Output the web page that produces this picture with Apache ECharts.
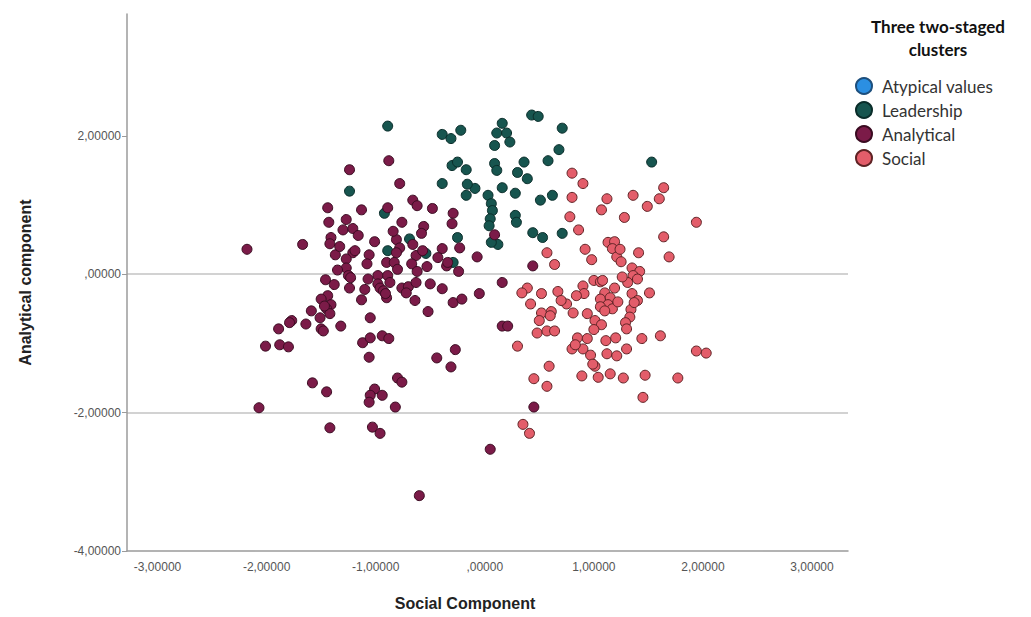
<!DOCTYPE html>
<html>
<head>
<meta charset="utf-8">
<title>Three two-staged clusters</title>
<script src="https://cdn.jsdelivr.net/npm/echarts@6/dist/echarts.min.js"></script>
<style>
  html, body { margin: 0; padding: 0; background: #ffffff; }
  #chart { width: 1031px; height: 617px; }
</style>
</head>
<body>
<div id="chart"></div>
<script>
// Cluster names as shown in the legend
const clusterNames = ['Atypical values', 'Leadership', 'Analytical', 'Social'];

// Tick positions and their printed labels (comma decimal, SPSS style)
const xTickValues = [-3, -2, -1, 0, 1, 2, 3];
const xTickLabels = ['-3,00000', '-2,00000', '-1,00000', ',00000', '1,00000', '2,00000', '3,00000'];
const yTickValues = [-4, -2, 0, 2];
const yTickLabels = ['-4,00000', '-2,00000', ',00000', '2,00000'];

// [Social Component, Analytical component] per case
const atypicalPoints = [];

const leadershipPoints = [
  [-0.89, 2.14], [-0.39, 2.02], [-0.31, 1.96], [-0.22, 2.08], [0.16, 2.18],
  [0.11, 2.04], [0.20, 2.04], [0.23, 1.91], [0.09, 1.86], [0.43, 2.30],
  [0.49, 2.28], [0.71, 2.11], [0.68, 1.80], [0.58, 1.64], [0.36, 1.62],
  [-0.30, 1.57], [-0.25, 1.62], [-0.17, 1.51], [-0.39, 1.31], [-0.09, 1.24],
  [-0.17, 1.14], [0.09, 1.60], [0.11, 1.50], [0.16, 1.25], [0.28, 1.17],
  [0.30, 1.47], [0.39, 1.38], [0.03, 1.14], [0.06, 1.02], [0.07, 0.92],
  [0.05, 0.80], [0.28, 0.85], [0.29, 0.75], [0.51, 1.07], [0.62, 1.14],
  [0.44, 0.60], [0.53, 0.53], [0.71, 0.59], [0.12, 0.43], [0.06, 0.46],
  [-0.25, 0.53], [-0.54, 0.30], [-0.89, 0.34], [-0.92, 0.88], [-0.69, 0.51],
  [-0.29, 0.17], [-1.24, 1.20], [1.53, 1.62], [0.04, 0.70], [-0.16, 1.30]
];

const analyticalPoints = [
  [-1.24, 1.51], [-0.88, 1.64], [-0.78, 1.31], [-1.44, 0.96], [-1.13, 0.93],
  [-0.89, 0.96], [-0.66, 1.07], [-0.62, 0.99], [-0.48, 0.95], [-0.29, 0.88],
  [-0.30, 0.73], [-1.43, 0.75], [-1.27, 0.79], [-1.30, 0.64], [-1.21, 0.66],
  [-0.76, 0.75], [-0.56, 0.69], [-0.58, 0.59], [-1.41, 0.53], [-1.42, 0.44],
  [-1.01, 0.47], [-0.81, 0.50], [-1.67, 0.43], [-2.18, 0.36], [-1.37, 0.28],
  [-1.21, 0.31], [-1.27, 0.22], [-1.06, 0.28], [-0.78, 0.38], [-0.66, 0.43],
  [-0.81, 0.31], [-0.63, 0.27], [-0.39, 0.37], [-0.23, 0.38], [-0.07, 0.25],
  [0.09, 0.57], [-1.08, 0.15], [-1.27, 0.09], [-0.90, 0.17], [-0.83, 0.17],
  [-0.80, 0.07], [-0.67, 0.15], [-0.43, 0.24], [-0.35, 0.12], [-0.53, 0.11],
  [-0.24, 0.04], [0.44, 0.12], [-1.25, -0.02], [-1.46, -0.08], [-1.07, -0.07],
  [-0.98, -0.02], [-0.89, -0.02], [-0.62, 0.04], [-1.38, -0.15], [-1.24, -0.20],
  [-0.98, -0.14], [-0.96, -0.20], [-0.87, -0.12], [-0.93, -0.24], [-0.90, -0.34],
  [-0.76, -0.20], [-0.70, -0.18], [-0.63, -0.12], [-0.50, -0.14], [-0.39, -0.21],
  [0.16, -0.12], [-0.05, -0.28], [-1.44, -0.31], [-1.13, -0.37], [-0.64, -0.38],
  [-0.29, -0.41], [-0.21, -0.36], [-1.50, -0.36], [-1.41, -0.44], [-1.45, -0.50],
  [-1.59, -0.53], [-1.42, -0.57], [-1.51, -0.63], [-1.05, -0.63], [-0.52, -0.54],
  [-1.77, -0.67], [-1.64, -0.72], [-1.32, -0.75], [-1.50, -0.79], [-1.48, -0.82],
  [-1.79, -0.70], [-1.89, -0.79], [-2.01, -1.04], [-1.88, -1.02], [-1.80, -1.05],
  [-1.12, -0.99], [-1.05, -0.92], [-0.94, -0.89], [-0.88, -0.93], [-1.06, -1.20],
  [-0.44, -1.21], [-0.31, -1.34], [-0.27, -1.09], [0.16, -0.75], [0.21, -0.75],
  [-1.58, -1.57], [-1.45, -1.70], [-1.01, -1.66], [-1.05, -1.75], [-0.94, -1.75],
  [-1.06, -1.85], [-0.80, -1.50], [-0.76, -1.56], [-0.82, -1.92], [-2.07, -1.93],
  [-1.42, -2.22], [-1.03, -2.21], [-0.96, -2.30], [-0.60, -3.20], [0.05, -2.53],
  [0.45, -1.92], [-1.23, -0.05], [-0.91, -0.28], [-1.47, -0.46], [-1.19, 0.34],
  [-0.34, 0.17], [-1.33, 0.40], [-1.16, 0.56], [-0.72, -0.27], [-1.10, -0.22],
  [-0.57, 0.34], [-1.35, 0.06], [-0.84, 0.62]
];

const socialPoints = [
  [0.80, 1.46], [0.90, 1.31], [0.80, 1.11], [1.12, 1.09], [1.36, 1.14],
  [1.64, 1.25], [1.60, 1.09], [1.49, 0.98], [1.07, 0.93], [0.78, 0.83],
  [1.28, 0.82], [1.94, 0.75], [0.86, 0.64], [1.13, 0.46], [1.19, 0.47],
  [1.17, 0.37], [1.21, 0.25], [1.25, 0.18], [1.41, 0.31], [1.64, 0.54],
  [1.69, 0.25], [0.57, 0.31], [0.64, 0.14], [0.92, 0.36], [0.98, 0.21],
  [1.35, 0.09], [1.42, 0.04], [1.36, -0.02], [1.40, -0.07], [1.31, -0.12],
  [1.00, -0.09], [1.06, -0.11], [0.90, -0.17], [0.91, -0.28], [0.67, -0.25],
  [0.52, -0.28], [0.39, -0.20], [0.34, -0.27], [0.42, -0.43], [0.52, -0.56],
  [0.50, -0.67], [0.61, -0.54], [0.48, -0.85], [0.57, -0.82], [0.64, -0.82],
  [0.75, -0.43], [0.81, -0.56], [0.84, -0.31], [1.10, -0.27], [1.19, -0.20],
  [1.06, -0.36], [1.15, -0.34], [1.13, -0.44], [1.06, -0.47], [1.17, -0.50],
  [1.10, -0.53], [1.35, -0.28], [1.40, -0.38], [1.34, -0.51], [1.33, -0.62],
  [1.29, -0.70], [1.30, -0.79], [1.51, -0.27], [0.94, -0.57], [0.60, -0.60],
  [1.01, -0.67], [1.07, -0.73], [0.85, -0.92], [0.94, -0.93], [0.80, -1.08],
  [0.90, -1.08], [0.97, -1.17], [1.01, -1.33], [1.04, -1.49], [0.89, -1.47],
  [1.11, -0.96], [1.12, -1.15], [1.21, -1.18], [1.30, -1.08], [1.44, -0.93],
  [1.61, -0.89], [1.15, -1.44], [1.27, -1.50], [1.47, -1.46], [1.77, -1.50],
  [1.94, -1.11], [2.03, -1.14], [0.59, -1.33], [0.57, -1.62], [1.45, -1.78],
  [0.45, -1.51], [0.30, -1.04], [0.35, -2.17], [0.41, -2.30], [1.08, -0.09],
  [1.37, -0.41], [0.99, -1.30], [0.83, -1.02], [1.22, -0.40], [1.26, -0.04],
  [0.70, -0.38], [1.00, -0.80], [1.24, 0.36], [1.20, -0.92]
];

const axisGray = '#9b9b9b';
const labelGray = '#555555';

function scatterSeries(name, data, fill, border) {
  return {
    name: name,
    type: 'scatter',
    data: data,
    symbol: 'circle',
    symbolSize: 10,
    itemStyle: { color: fill, borderColor: border, borderWidth: 1, opacity: 1 },
    emphasis: { disabled: true }
  };
}

const chart = echarts.init(document.getElementById('chart'), null, { renderer: 'svg' });

chart.setOption({
  animation: false,
  backgroundColor: '#ffffff',
  textStyle: { fontFamily: 'Liberation Sans, Arial, sans-serif' },
  title: {
    text: 'Three two-staged\nclusters',
    left: 933,
    top: 10,
    textAlign: 'center',
    textStyle: {
      fontFamily: 'Lato, "Noto Sans", sans-serif',
      fontSize: 17,
      fontWeight: 'bold',
      color: '#111111',
      lineHeight: 23
    }
  },
  legend: {
    orient: 'vertical',
    left: 850,
    top: 72,
    itemWidth: 16,
    itemHeight: 16,
    itemGap: 6,
    icon: 'circle',
    data: clusterNames,
    selectedMode: false,
    textStyle: {
      fontFamily: 'Lato, "Noto Sans", sans-serif',
      fontSize: 17,
      color: '#333333',
      padding: [0, 0, 0, 5]
    }
  },
  grid: { left: 127, right: 183, top: 14, bottom: 66, containLabel: false },
  xAxis: {
    type: 'value',
    min: -3.28,
    max: 3.33,
    name: 'Social Component',
    nameLocation: 'middle',
    nameGap: 44,
    nameTextStyle: {
      fontFamily: 'Liberation Sans, Arial, sans-serif',
      fontSize: 16,
      fontWeight: 'bold',
      color: '#222222',
      padding: [0, 45, 0, 0]
    },
    axisLine: { show: true, onZero: false, lineStyle: { color: axisGray, width: 1.5 } },
    axisTick: { show: false },
    splitLine: { show: false },
    axisLabel: {
      customValues: xTickValues,
      formatter: function (v) { return xTickLabels[xTickValues.indexOf(Math.round(v))]; },
      color: labelGray,
      fontSize: 12,
      margin: 10
    }
  },
  yAxis: {
    type: 'value',
    min: -4,
    max: 3.76,
    name: 'Analytical component',
    nameLocation: 'middle',
    nameGap: 94,
    nameTextStyle: {
      fontFamily: 'Liberation Sans, Arial, sans-serif',
      fontSize: 16,
      fontWeight: 'bold',
      color: '#222222',
      padding: [12, 0, 0, 0]
    },
    axisLine: { show: true, onZero: false, lineStyle: { color: axisGray, width: 1.5 } },
    axisTick: { show: true, length: 5, customValues: yTickValues, lineStyle: { color: axisGray } },
    splitLine: {
      show: true,
      showMinLine: false,
      showMaxLine: false,
      lineStyle: { color: '#d2d2d2', width: 2 }
    },
    axisLabel: {
      customValues: yTickValues,
      formatter: function (v) { return yTickLabels[yTickValues.indexOf(Math.round(v))]; },
      color: labelGray,
      fontSize: 12,
      margin: 6
    }
  },
  series: [
    scatterSeries(clusterNames[0], atypicalPoints, '#2b8fe2', '#1d4f7d'),
    scatterSeries(clusterNames[1], leadershipPoints, '#17554f', '#0a2d2a'),
    scatterSeries(clusterNames[2], analyticalPoints, '#7b1b48', '#3a0b21'),
    scatterSeries(clusterNames[3], socialPoints, '#e35d6a', '#5e2224')
  ]
});
</script>
</body>
</html>
